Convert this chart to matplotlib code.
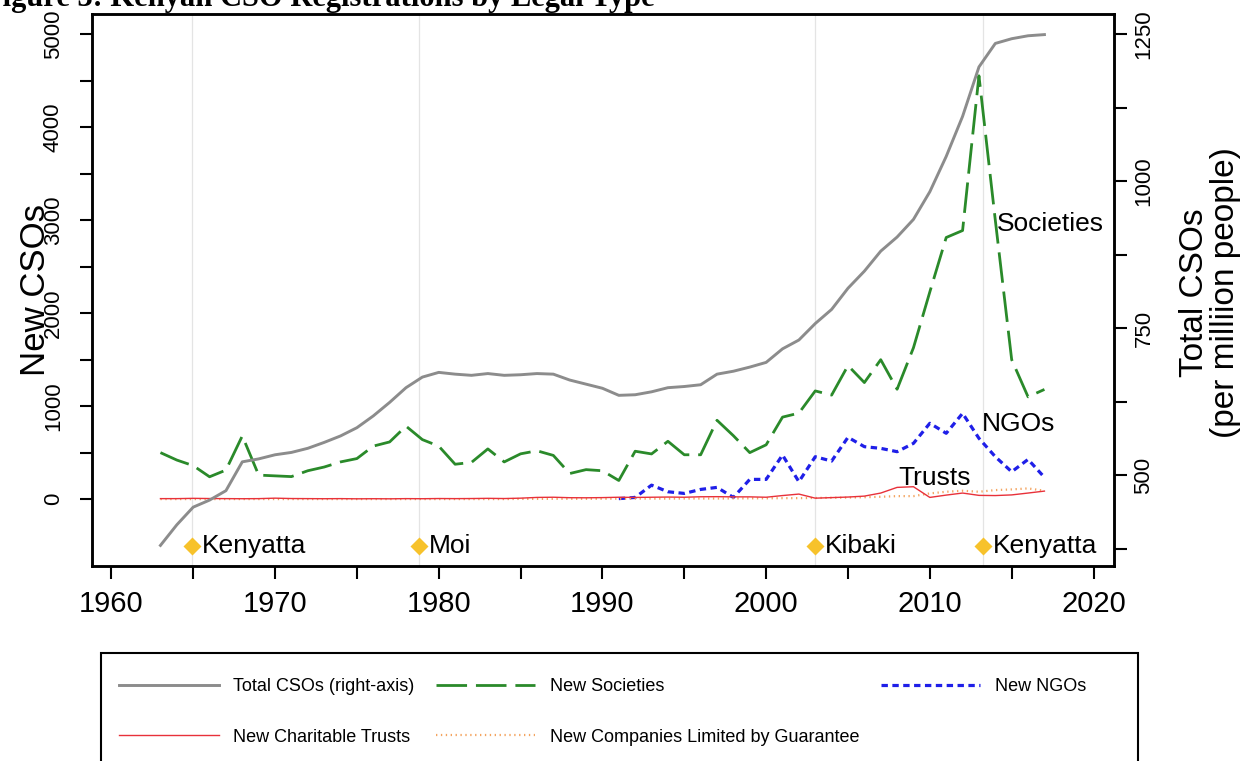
import matplotlib
matplotlib.use("Agg")
import matplotlib.pyplot as plt
from matplotlib.patches import Rectangle
import numpy as np

plt.rcParams['font.family'] = ['Liberation Sans', 'DejaVu Sans']

years = np.arange(1963, 2018)

# total CSOs per million people (right axis)
total_per_million = [381, 416, 446, 458, 474, 523, 528, 535, 539, 546,
                     556, 567, 581, 601, 624, 649, 667, 675, 672, 670,
                     673, 670, 671, 673, 672, 662, 655, 648, 636, 637,
                     642, 649, 651, 654, 672, 677, 684, 692, 715, 730,
                     758, 782, 818, 847, 881, 905, 935, 982, 1042, 1110,
                     1194, 1234, 1242, 1247, 1249]

new_societies = [500, 420, 360, 240, 312, 680, 258, 250, 242, 305,
                 345, 400, 436, 570, 615, 785, 640, 570, 375, 395,
                 540, 400, 487, 520, 470, 275, 317, 305, 200, 515,
                 486, 622, 477, 477, 848, 682, 500, 584, 882, 925,
                 1164, 1119, 1437, 1254, 1500, 1182, 1629, 2230, 2815, 2890,
                 4555, 3000, 1500, 1100, 1180]

new_trusts = [5, 5, 8, 6, 5, 4, 5, 10, 6, 5,
              4, 5, 3, 4, 3, 5, 4, 6, 5, 6,
              8, 6, 10, 18, 20, 15, 14, 16, 20, 18,
              20, 22, 20, 25, 26, 24, 24, 20, 38, 54,
              10, 16, 22, 32, 65, 126, 133, 18, 43, 65,
              40, 38, 45, 65, 86]

new_clg = [0, 0, 0, 0, 0, 0, 0, 0, 0, 0,
           0, 0, 0, 0, 0, 0, 0, 0, 0, 0,
           0, 0, 2, 2, 3, 3, 3, 4, 4, 5,
           5, 5, 6, 6, 6, 7, 8, 8, 10, 10,
           12, 14, 16, 20, 25, 32, 32, 61, 79, 90,
           79, 97, 104, 115, 90]

ngo_years = np.arange(1991, 2018)
new_ngos = [5, 18, 150, 79, 61, 104, 126, 18, 212, 212,
            474, 187, 456, 409, 665, 564, 546, 510, 600, 816,
            708, 923, 654, 456, 294, 427, 234]

presidents = ['Kenyatta', 'Moi', 'Kibaki', 'Kenyatta']
pres_start = [1964.95, 1978.79, 2003.0, 2013.27]

W, H = 1252, 761
fig = plt.figure(figsize=(W / 100, H / 100), dpi=100)
L, R, T, B = 91.7, 1114, 14, 566
ax = fig.add_axes([L / W, 1 - B / H, (R - L) / W, (B - T) / H])
ax2 = ax.twinx()

for x in pres_start:
    ax.axvline(x, color='#e4e4e4', lw=0.9, zorder=0)

l_soc, = ax.plot(years, new_societies, color='#2a8a2a', lw=2.0,
                 dashes=(11, 3.2), label='New Societies')
l_ngo, = ax.plot(ngo_years, new_ngos, color='#1f1fe8', lw=2.3,
                 dashes=(2.0, 1.4), label='New NGOs')
l_clg, = ax.plot(years, new_clg, color='#f4a460', lw=1.6, ls=(0, (0.6, 1.6)),
                 label='New Companies Limited by Guarantee')
l_tr, = ax.plot(years, new_trusts, color='#e8313a', lw=1.0,
                label='New Charitable Trusts')
l_tot, = ax2.plot(years, total_per_million, color='#8c8c8c', lw=2.1,
                  label='Total CSOs (right-axis)')

ax.plot(pres_start, [-500] * 4, 'D', color='#f7c22b', ms=9, mec='none', zorder=5)
for x, name in zip(pres_start, presidents):
    ax.text(x + 0.6, -500, name, ha='left', va='center', fontsize=19)

ax.text(2014.1, 2960, 'Societies', ha='left', va='center', fontsize=19)
ax.text(2013.2, 810, 'NGOs', ha='left', va='center', fontsize=19)
ax.text(2008.1, 230, 'Trusts', ha='left', va='center', fontsize=19)

ax.set_xlim(1958.8, 2021.25)
ax.set_ylim(-720, 5220)
ax2.set_ylim(346, 1284)

ax.set_xticks(np.arange(1960, 2021, 5))
ax.set_xticklabels([str(y) if y % 10 == 0 else '' for y in range(1960, 2021, 5)])
ax.set_yticks(np.arange(0, 5001, 500))
ax.set_yticklabels([str(v) if v % 1000 == 0 else '' for v in range(0, 5001, 500)])
ax2.set_yticks(np.arange(375, 1251, 125))
ax2.set_yticklabels([str(v) if v % 250 == 0 else '' for v in range(375, 1251, 125)])

ax.tick_params(axis='x', labelsize=21, length=9, width=1.5, pad=8)
ax.tick_params(axis='y', labelsize=16, length=9, width=1.5, pad=11, labelrotation=90)
ax2.tick_params(axis='y', labelsize=16, length=9, width=1.5, pad=5, labelrotation=90)
for lab in ax.get_yticklabels() + ax2.get_yticklabels():
    lab.set_va('center')

for a in (ax, ax2):
    for s in a.spines.values():
        s.set_linewidth(1.8)
        s.set_color('black')

ax.set_ylabel('New CSOs', fontsize=25)
ax.yaxis.set_label_coords(-0.039, 0.5)
ax2.set_ylabel('Total CSOs\n(per milliion people)', fontsize=24, rotation=90,
               linespacing=1.0)
ax2.yaxis.set_label_coords(1.064, 0.495)

fig.text(655 / W, 1 - 6 / H, 'Figure 3: Kenyan CSO Registrations by Legal Type',
         ha='right', va='baseline', fontsize=22, fontweight='bold',
         family='Liberation Serif')

# legend box drawn separately so it can run off the bottom edge like the original
fig.patches.append(Rectangle((101 / W, 1 - 775 / H), (1138 - 101) / W, (775 - 653) / H,
                             transform=fig.transFigure, fill=False,
                             edgecolor='black', lw=1.5))
leg = fig.legend(handles=[l_tot, l_tr, l_soc, l_clg, l_ngo],
                 labels=['Total CSOs (right-axis)', 'New Charitable Trusts',
                         'New Societies', 'New Companies Limited by Guarantee',
                         'New NGOs'],
                 ncol=3, loc='upper left', bbox_to_anchor=(94 / W, 1 - 653 / H),
                 bbox_transform=fig.transFigure, borderaxespad=0,
                 frameon=False, fontsize=13,
                 handlelength=5.5, handletextpad=0.8, columnspacing=1.2,
                 labelspacing=1.85, borderpad=1.4)

fig.savefig('out.png', dpi=100)
